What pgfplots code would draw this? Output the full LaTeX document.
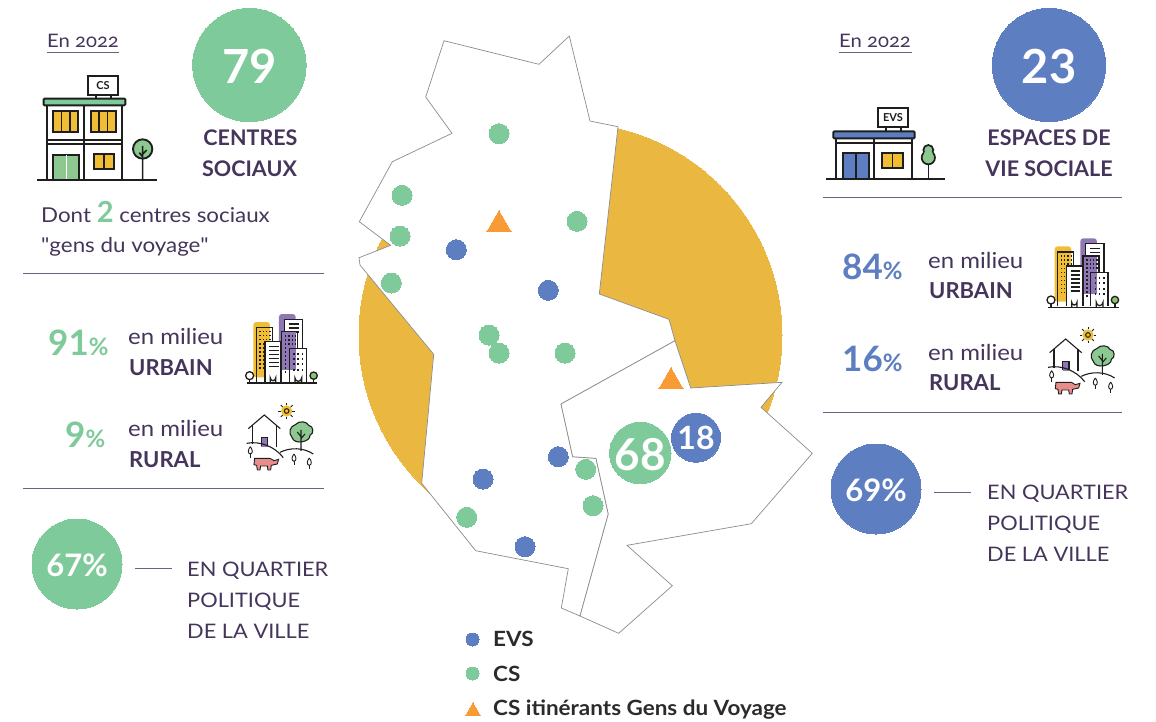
\documentclass[border=0pt]{standalone}
\usepackage{fontspec}
\setmainfont{Lato}[FakeStretch=1.09,BoldFeatures={FakeStretch=1.0}]
\newfontfamily\lgfont{Lato}[FakeStretch=1.07]
\newfontfamily\qfont{Lato}[FakeStretch=1.09]
\usepackage{pgfplots}
\pgfplotsset{compat=1.18}
\definecolor{cgreen}{HTML}{7FCA9A}
\definecolor{cblue}{HTML}{5E7EC2}
\definecolor{cyellow}{HTML}{EAB840}
\definecolor{corange}{HTML}{F89B35}
\definecolor{ctext}{HTML}{45355A}
\definecolor{crule}{HTML}{6F5F82}
\definecolor{cwin}{HTML}{F0BD35}
\definecolor{cdoor}{HTML}{8CC88F}
\definecolor{cpurple}{HTML}{8F76B5}
\definecolor{cpink}{HTML}{E98C8C}
\definecolor{ctree}{HTML}{8CC56F}
\definecolor{cink}{HTML}{1E1E1E}
\definecolor{clegend}{HTML}{2B2B2B}
\newcommand{\T}[5][ctext]{\node[anchor=base west,inner sep=0pt,text=#1,font=\fontsize{#4}{#4}\selectfont] at (axis cs:#2,#3) {#5};}
\newcommand{\C}[5][ctext]{\node[anchor=base,inner sep=0pt,text=#1,font=\fontsize{#4}{#4}\selectfont] at (axis cs:#2,#3) {#5};}
\newcommand{\urbanicon}{%
  \fill[cwin,rounded corners=3] (700,96) rectangle (750,262);
  \fill[cpurple,rounded corners=3] (777,72) rectangle (827,240);
  \draw[cink,line width=1.3pt] (709,276) -- (709,113) -- (757,113) -- (757,155);
  \foreach \a in {718,728,738,748}{\foreach \b in {122,134,146}{\fill[cink] (\a,\b) rectangle +(4,5);}}
  \foreach \b in {160,172,184,196,208,220,232}{\fill[cink] (718,\b) rectangle +(4,5);\fill[cink] (728,\b) rectangle +(4,5);}
  \draw[cink,line width=1.3pt,fill=white] (793,190) -- (793,88) -- (848,88) -- (848,176) -- (793,176);
  \foreach \b in {102,114,126}{\draw[cink,line width=1.1pt] (806,\b) -- (836,\b);}
  \draw[cink,line width=1.3pt] (735,276) -- (735,155) -- (783,155) -- (783,276);
  \fill[white] (737,157) rectangle (781,274);
  \foreach \b in {170,182,194,206,218,230}{\draw[cink,line width=1.1pt] (748,\b) -- (776,\b);}
  \fill[cpurple] (787,127) rectangle (827,240);
  \fill[white] (787,240) rectangle (808,276);
  \draw[cink,line width=1.3pt] (785,276) -- (785,125) -- (833,125) -- (833,176);
  \foreach \a in {795,805,815,825}{\foreach \b in {135,147,159}{\fill[cink] (\a,\b) rectangle +(4,5);}}
  \foreach \b in {171,183,195,207,219,231,243}{\fill[cink] (795,\b) rectangle +(4,5);}
  \draw[cink,line width=1.3pt,fill=white] (808,276) -- (808,175) -- (860,175) -- (860,276);
  \fill[cpurple] (810,177) rectangle (827,240);
  \foreach \a in {820,832,846}{\foreach \b in {188,204,220,236}{\fill[cink] (\a,\b) rectangle +(4,6);}}
  \draw[cink,line width=1.3pt] (751,278) -- (751,264) arc (180:0:8) -- (767,278);
  \draw[cink,line width=1.3pt] (825,278) -- (825,264) arc (180:0:10) -- (845,278);
  \draw[cink,line width=1.3pt,fill=white] (689,257) circle (12);
  \draw[cink,line width=1.3pt,fill=ctree] (881,257) circle (11);
  \draw[cink,line width=1.3pt] (689,269) -- (689,278) (881,268) -- (881,278);
  \draw[cink,line width=1.6pt] (680,279) -- (892,279);
}
\newcommand{\smalltree}[2]{\draw[cink,line width=0.9pt,fill=white] (#1,#2-16) .. controls (#1+8,#2-6) and (#1+8,#2+4) .. (#1,#2+6) .. controls (#1-8,#2+4) and (#1-8,#2-6) .. (#1,#2-16); \draw[cink,line width=0.9pt] (#1,#2+4) -- (#1,#2+18);}
\newcommand{\ruralicon}{%
  \fill[cwin] (800,363) circle (17);
  \foreach \r in {0,45,...,315}{\draw[cink,line width=0.9pt] (800,363)+(\r:17) -- +(\r:25);}
  \draw[cink,line width=1pt,fill=cwin] (800,363) circle (7);
  \draw[cink,line width=1.1pt] (685,416) -- (733,375) -- (781,416);
  \draw[cink,line width=1.1pt] (698,405) -- (698,462) (770,405) -- (770,470);
  \fill[cpurple] (724,442) rectangle (743,470);
  \draw[cink,line width=1.1pt] (724,468) -- (724,442) -- (743,442) -- (743,468);
  \draw[cink,line width=1.1pt] (680,460) .. controls (720,452) and (765,470) .. (790,503);
  \draw[cink,line width=1.1pt] (780,487) .. controls (810,472) and (850,472) .. (880,492);
  \draw[cink,line width=1.1pt,fill=cdoor] (826,404) .. controls (838,390) and (862,395) .. (866,406) .. controls (882,408) and (882,432) .. (870,436) .. controls (872,456) and (822,466) .. (816,442) .. controls (804,430) and (810,408) .. (826,404) -- cycle;
  \draw[cink,line width=1.1pt] (843,420) -- (843,483) (843,440) -- (832,426) (843,446) -- (855,432);
  \smalltree{691}{486}
  \smalltree{822}{508}
  \smalltree{868}{520}
  \draw[cink,line width=0.9pt,fill=cpink] (704,505) -- (750,505) -- (762,512) -- (776,508) -- (772,522) -- (754,526) -- (752,540) -- (744,540) -- (742,528) -- (722,528) -- (720,540) -- (712,540) -- (710,526) -- (702,524) -- cycle;
}
\begin{document}
\begin{tikzpicture}
\begin{axis}[at={(0pt,0pt)},anchor=north west,scale only axis,width=1156pt,height=721pt,
  xmin=0,xmax=1156,ymin=0,ymax=721,y dir=reverse,hide axis,clip=true,clip marker paths=true,
  every axis plot/.append style={mark options={line width=0pt}}]
% disc behind the map
\addplot[only marks,mark=*,mark size=211.5pt,color=cyellow] coordinates {(570.5,335)};
% map
\addplot[fill=white,draw=black!45,line width=0.7pt] coordinates {
 (444,40.7)(539,64.3)(569.3,36)(590,121)(618,126.7)(599.3,294)(669,319.3)(675,340.7)
 (561,404)(572.7,456.7)(596,458.3)(608.3,514)(580,616)(561.3,608)(568.3,568.7)(475.7,550.7)
 (421.7,483.3)(433.7,354.3)(360,265)(359,257.7)(390.7,245.3)(359.3,221.7)(392.3,161.7)
 (452,133.3)(425.7,97)} --cycle;
\addplot[fill=white,draw=black!45,line width=0.7pt] coordinates {
 (675,340.7)(690.7,388)(782,382.3)(761,407.3)(812.3,453.3)(751.3,523.7)(627,545.3)(672.3,585.7)
 (618.7,633.3)(580,616)(608.3,514)(596,458.3)(572.7,456.7)(561,404)} --cycle;
% CS
\addplot[only marks,mark=*,mark size=10pt,color=cgreen] coordinates {
 (499,133.7)(402,195.3)(400,236)(391.3,283)(577,221.3)(489,335)(499,353)(565,353)(585.7,469.3)(593,505.7)(466.7,517.3)};
\addplot[only marks,mark=*,mark size=6.5pt,color=cgreen] coordinates {(472.5,673.5)};
% EVS
\addplot[only marks,mark=*,mark size=10pt,color=cblue] coordinates {
 (456.3,249.7)(548.3,290.3)(558.3,456.7)(483,479)(525,546.7)};
\addplot[only marks,mark=*,mark size=6.5pt,color=cblue] coordinates {(472.5,639.5)};
% itinerant
\addplot[only marks,mark=triangle*,mark size=14pt,color=corange] coordinates {(499,224.7)(671,381.7)};
\addplot[only marks,mark=triangle*,mark size=8.8pt,color=corange] coordinates {(473,711.5)};
% big bubbles
\addplot[only marks,mark=*,mark size=30.7pt,color=cgreen] coordinates {(640.3,453)};
\addplot[only marks,mark=*,mark size=24.5pt,color=cblue] coordinates {(696,437.7)};
\addplot[only marks,mark=*,mark size=56.7pt,color=cgreen] coordinates {(249.4,65)};
\addplot[only marks,mark=*,mark size=56.7pt,color=cblue] coordinates {(1049,65)};
\addplot[only marks,mark=*,mark size=45pt,color=cgreen] coordinates {(77,564)};
\addplot[only marks,mark=*,mark size=45pt,color=cblue] coordinates {(876,489)};
% rules
\addplot[crule,line width=0.9pt] coordinates {(23,273)(324,273)};
\addplot[crule,line width=0.9pt] coordinates {(23,488.5)(324,488.5)};
\addplot[crule,line width=0.9pt] coordinates {(823,197.5)(1122,197.5)};
\addplot[crule,line width=0.9pt] coordinates {(823,412.5)(1122,412.5)};
\addplot[crule,line width=0.8pt] coordinates {(135,568.5)(172,568.5)};
\addplot[crule,line width=0.8pt] coordinates {(934,492.5)(971,492.5)};
\addplot[crule,line width=1pt] coordinates {(47,52)(119,52)};
\addplot[crule,line width=1pt] coordinates {(839,52)(912,52)};
% left text
\T{47}{47}{18.6}{En {\addfontfeature{Numbers=OldStyle}2022}}
\C[white]{249.5}{83}{47}{\bfseries 79}
\C{250.5}{145}{21.5}{\bfseries CENTRES}
\C{249.5}{176}{21.5}{\bfseries SOCIAUX}
\T{41}{222}{20.5}{Dont {\fontsize{29}{29}\selectfont\bfseries\color{cgreen}2} centres sociaux}
\T{41}{252}{20.5}{{\qfont\symbol{34}}gens du voyage{\qfont\symbol{34}}}
\T[cgreen]{48}{355}{35}{\bfseries 91{\fontsize{24}{24}\selectfont\%}}
\T{128}{344}{22}{en milieu}
\T{129}{375}{22}{\bfseries URBAIN}
\T[cgreen]{65}{447}{35}{\bfseries 9{\fontsize{24}{24}\selectfont\%}}
\T{128}{436}{22}{en milieu}
\T{129}{467}{22}{\bfseries RURAL}
\C[white]{77}{576}{31}{\bfseries 67\%}
\T{187}{576}{20}{EN QUARTIER}
\T{187}{607}{20}{POLITIQUE}
\T{187}{638}{20}{DE LA VILLE}
% right text
\T{839}{47}{18.6}{En {\addfontfeature{Numbers=OldStyle}2022}}
\C[white]{1049}{83}{47}{\bfseries 23}
\C{1049}{145}{21.5}{\bfseries ESPACES DE}
\C{1049}{176}{21.5}{\bfseries VIE SOCIALE}
\T[cblue]{842}{279}{35}{\bfseries 84{\fontsize{24}{24}\selectfont\%}}
\T{928}{268}{22}{en milieu}
\T{929}{298}{22}{\bfseries URBAIN}
\T[cblue]{842}{371}{35}{\bfseries 16{\fontsize{24}{24}\selectfont\%}}
\T{928}{360}{22}{en milieu}
\T{929}{390}{22}{\bfseries RURAL}
\C[white]{876}{501}{31}{\bfseries 69\%}
\T{987}{499}{20}{EN QUARTIER}
\T{987}{530}{20}{POLITIQUE}
\T{987}{561}{20}{DE LA VILLE}
% bubbles text
\C[white]{640.3}{470}{44}{\bfseries 68}
\C[white]{696}{449}{32}{\bfseries 18}
% legend
\T[clegend]{493}{646}{21}{\lgfont\bfseries EVS}
\T[clegend]{493}{681}{21}{\lgfont\bfseries CS}
\T[clegend]{493}{715.5}{21}{\lgfont\bfseries CS itinérants Gens du Voyage}
\end{axis}
% --- icons, in page pixels x3 ---
\begin{scope}[x=0.3333pt,y=-0.3333pt,shift={(20pt,-290pt)}]\urbanicon\end{scope}
\begin{scope}[x=0.3333pt,y=-0.3333pt,shift={(821.33pt,-214.33pt)}]\urbanicon\end{scope}
\begin{scope}[x=0.3333pt,y=-0.3333pt,shift={(20pt,-290pt)}]\ruralicon\end{scope}
\begin{scope}[x=0.3333pt,y=-0.3333pt,shift={(821.33pt,-214pt)}]\ruralicon\end{scope}
% CS building
\begin{scope}[x=0.3333pt,y=-0.3333pt,shift={(20pt,0pt)}]
  \draw[cink,line width=1.9pt,fill=white] (80,316) rectangle (306,541);
  \draw[cink,line width=1.9pt] (191,316) -- (191,541) (80,420) -- (306,420) (80,432) -- (306,432);
  \foreach \xa in {100,212}{
    \draw[cink,line width=1.9pt,fill=cwin] (\xa,334) rectangle (\xa+75,396);
    \draw[cink,line width=1.3pt] (\xa+25,334) -- (\xa+25,396) (\xa+50,334) -- (\xa+50,396);}
  \draw[cink,line width=1.9pt,fill=cdoor] (100,464) rectangle (178,541);
  \draw[white,line width=0.9pt] (139,464) -- (139,541);
  \draw[cink,line width=1.9pt,fill=cwin] (221,463) rectangle (283,508);
  \draw[cink,line width=1.3pt] (252,463) -- (252,508);
  \draw[cink,line width=1.9pt,fill=white] (205,227) rectangle (295,284);
  \draw[cink,line width=1.9pt] (229,284) -- (229,296) (274,284) -- (274,296);
  \node[text=cink,font=\fontsize{11}{11}\selectfont\bfseries,inner sep=0pt] at (249,256) {CS};
  \draw[cink,line width=1.9pt,fill=cgreen,rounded corners=1] (71,296) rectangle (316,316);
  \draw[cink,line width=1.9pt,fill=cdoor] (368,447) circle (29);
  \draw[cink,line width=1.6pt] (368,438) -- (368,541) (368,462) -- (380,450) (368,470) -- (358,458);
  \draw[cink,line width=1.9pt] (52,541) -- (412,541);
\end{scope}
% EVS building
\begin{scope}[x=0.3333pt,y=-0.3333pt,shift={(820pt,0pt)}]
  \draw[cink,line width=1.9pt,fill=white] (48,415) rectangle (276,536);
  \draw[cink,line width=1.9pt] (161,415) -- (161,536) (48,430) -- (276,430);
  \draw[cink,line width=1.9pt,fill=cblue] (69,458) rectangle (147,536);
  \draw[cink,line width=1.3pt] (108,458) -- (108,536);
  \draw[cink,line width=1.9pt,fill=cwin] (187,458) rectangle (248,503);
  \draw[cink,line width=1.3pt] (218,458) -- (218,503);
  \draw[cink,line width=1.9pt,fill=white] (173,323) rectangle (264,380);
  \draw[cink,line width=1.9pt] (197,380) -- (197,393) (244,380) -- (244,393);
  \node[text=cink,font=\fontsize{11}{11}\selectfont\bfseries,inner sep=0pt] at (219,352) {EVS};
  \draw[cink,line width=1.9pt,fill=cblue,rounded corners=1] (40,394) rectangle (284,415);
  \draw[cink,line width=1.6pt] (325,480) -- (325,536);
  \draw[cink,line width=1.7pt,fill=cdoor] (325,450) circle (15);
  \draw[cink,line width=1.7pt,fill=cdoor] (325,473) circle (20);
  \fill[cdoor] (325,461) circle (13);
  \draw[cink,line width=1.9pt] (17,536) -- (376,536);
\end{scope}
\pgfresetboundingbox
\path[use as bounding box] (0pt,0pt) rectangle (1156pt,-721pt);
\end{tikzpicture}
\end{document}
